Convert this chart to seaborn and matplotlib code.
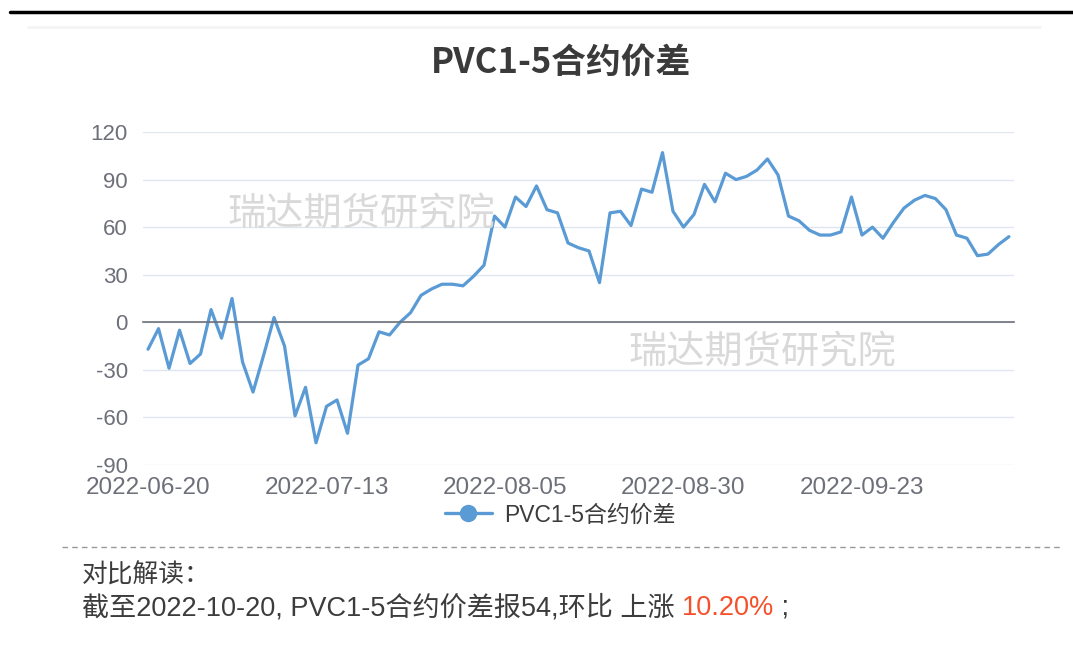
import pandas as pd
import numpy as np
import seaborn as sns
import matplotlib.pyplot as plt
from matplotlib.lines import Line2D

# trading days (Chinese exchange calendar, holidays removed)
holidays = ["2022-09-12", "2022-10-03", "2022-10-04", "2022-10-05", "2022-10-06", "2022-10-07"]
dates = pd.bdate_range("2022-06-20", "2022-10-20", freq="C", holidays=holidays)

spread = [
    -17, -4, -29, -5, -26, -20, 8, -10, 15, -25,
    -44, -21, 3, -15, -59, -41, -76, -53, -49, -70,
    -27, -23, -6, -8, 0, 6, 17, 21, 24, 24,
    23, 29, 36, 67, 60, 79, 73, 86, 71, 69,
    50, 47, 45, 25, 69, 70, 61, 84, 82, 107,
    70, 60, 68, 87, 76, 94, 90, 92, 96, 103,
    93, 67, 64, 58, 55, 55, 57, 79, 55, 60,
    53, 63, 72, 77, 80, 78, 71, 55, 53, 42,
    43, 49, 54,
]
series_name = "PVC1-5合约价差"
yticks = [-90, -60, -30, 0, 30, 60, 90, 120]
watermark = "瑞达期货研究院"
note_title = "对比解读："
note_text = "截至2022-10-20, PVC1-5合约价差报54,环比 上涨 "
note_pct = "10.20%"

df = pd.DataFrame({"idx": np.arange(len(spread)), "value": spread})
tick_idx = list(range(0, len(dates), 17))
tick_labels = [dates[i].strftime("%Y-%m-%d") for i in tick_idx]

sns.set_style("white")
plt.rcParams["font.family"] = ["Liberation Sans", "Noto Sans CJK SC", "DejaVu Sans"]
plt.rcParams["axes.unicode_minus"] = False

W, H = 1073, 652
fig = plt.figure(figsize=(W / 100, H / 100), dpi=100)
ax = fig.add_axes([143 / W, 1 - 465 / H, (1014 - 143) / W, 333 / H])

line_color = "#5a9bd5"
grey = "#6e7079"
text_color = "#3c3c3c"

sns.lineplot(data=df, x="idx", y="value", ax=ax, color=line_color, lw=2.3, legend=False)

ax.set_ylim(-90, 120)
ax.set_xlim(-0.48, len(spread) - 1 + 0.48)
ax.set_yticks(yticks)
ax.yaxis.grid(True, color="#e0e6f1", lw=1)
ax.set_axisbelow(True)
for s in ["top", "right", "left"]:
    ax.spines[s].set_visible(False)
ax.spines["bottom"].set_position(("data", 0))
ax.spines["bottom"].set_color(grey)
ax.spines["bottom"].set_linewidth(1.2)
ax.set_xticks(tick_idx)
ax.tick_params(axis="x", length=5, color=grey, labelbottom=False)
ax.tick_params(axis="y", length=0, pad=11, labelsize=16, labelcolor=grey)
ax.set_xlabel("")
ax.set_ylabel("")

# date labels sit below the plot, not on the zero line
sec = ax.secondary_xaxis("bottom")
sec.set_xticks(tick_idx, tick_labels)
sec.spines["bottom"].set_visible(False)
sec.tick_params(length=0, pad=9, labelsize=17.5, labelcolor=grey)

# watermarks
wm_kw = dict(fontsize=27.5, color="#d9d9d9", ha="center", va="center",
             family=["Noto Sans CJK SC", "DejaVu Sans"])
fig.text(361 / W, 1 - 215 / H, watermark, **wm_kw)
fig.text(762 / W, 1 - 353 / H, watermark, **wm_kw)

fig.text(561 / W, 1 - 62 / H, series_name, fontsize=25, fontweight="bold", color="#3a3a3a",
         ha="center", va="center", family=["Noto Sans CJK SC", "DejaVu Sans"])

handle = Line2D([], [], color=line_color, lw=2.4, marker="o", markersize=11.5)
ax.legend([handle], [series_name], loc="center left", bbox_to_anchor=(424 / W, 1 - 515 / H),
          bbox_transform=fig.transFigure, frameon=False, fontsize=16.5, borderpad=0.4,
          handlelength=2.05, handletextpad=0.55, labelcolor=text_color)

# top rule, faint band and dashed separator
fig.add_artist(Line2D([10 / W, 1], [1 - 12 / H] * 2, color="black", lw=2.5))
fig.add_artist(Line2D([28 / W, 1040 / W], [1 - 27 / H] * 2, color="#f4f4f4", lw=2))
fig.add_artist(Line2D([62 / W, 1062 / W], [1 - 547 / H] * 2, color="#999999", lw=1,
                      linestyle=(0, (4, 3))))

fig.text(82 / W, 1 - 575 / H, note_title, fontsize=18.5, color=text_color, va="center")
t1 = fig.text(82 / W, 1 - 608 / H, note_text, fontsize=19.5, color=text_color, va="center")
fig.canvas.draw()
bb = t1.get_window_extent(renderer=fig.canvas.get_renderer())
t2 = fig.text(bb.x1 / W, 1 - 608 / H, note_pct, fontsize=19.5, color="#f5502a", va="center")
fig.canvas.draw()
bb2 = t2.get_window_extent(renderer=fig.canvas.get_renderer())
fig.text(bb2.x1 / W, 1 - 608 / H, " ;", fontsize=19.5, color=text_color, va="center")

fig.savefig("out.png", dpi=100)
